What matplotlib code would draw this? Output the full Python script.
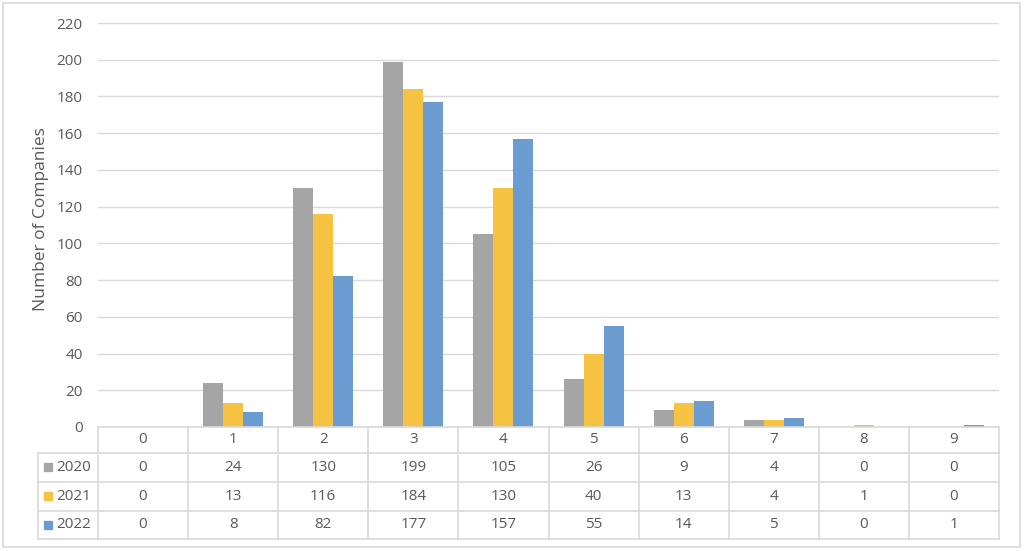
import matplotlib
matplotlib.use("Agg")
import matplotlib.pyplot as plt
from matplotlib.patches import Rectangle
from matplotlib.lines import Line2D

categories = ["0", "1", "2", "3", "4", "5", "6", "7", "8", "9"]
series_names = ["2020", "2021", "2022"]
v2020 = [0, 24, 130, 199, 105, 26, 9, 4, 0, 0]
v2021 = [0, 13, 116, 184, 130, 40, 13, 4, 1, 0]
v2022 = [0, 8, 82, 177, 157, 55, 14, 5, 0, 1]
yticks = [0, 20, 40, 60, 80, 100, 120, 140, 160, 180, 200, 220]
ylabel = "Number of Companies"

series = [v2020, v2021, v2022]
colors = ["#A5A5A5", "#F6C242", "#6A9BD1"]
txt = "#595959"
grid = "#D9D9D9"

plt.rcParams['font.family'] = ['Open Sans', 'DejaVu Sans']
FS = 11

W, H = 1024, 551
fig = plt.figure(figsize=(W / 100, H / 100), dpi=100)

def fx(px):
    return px / W

def fy(py):
    return 1 - py / H

# outer frame
fig.patches.append(Rectangle((fx(3), fy(547)), fx(1020) - fx(3), fy(3) - fy(547),
                             transform=fig.transFigure, fill=False, edgecolor=grid, lw=1.2))

L, R, T, B = 98, 999, 23, 427
ax = fig.add_axes([fx(L), fy(B), fx(R) - fx(L), fy(T) - fy(B)])
n = len(categories)
bw = 0.222
for i, (vals, c) in enumerate(zip(series, colors)):
    xs = [k + (i - 1) * bw for k in range(n)]
    ax.bar(xs, vals, width=bw, color=c, zorder=3)
ax.set_xlim(-0.5, n - 0.5)
ax.set_ylim(0, 220)
ax.set_yticks(yticks)
ax.set_yticklabels([str(t) for t in yticks], fontsize=FS, color=txt)
ax.tick_params(axis='y', length=0, pad=11)
ax.set_xticks([])
ax.grid(axis='y', color=grid, lw=1, zorder=0)
for s in ax.spines.values():
    s.set_visible(False)
ax.set_ylabel(ylabel, fontsize=12.5, color=txt)
ax.yaxis.set_label_coords(fx(49 - L) / (fx(R) - fx(L)), (B - 219) / (B - T))

# data table
TL = 38
rows_y = [427, 453, 482, 511, 539]
tx = fig.add_axes([fx(TL), fy(rows_y[-1]), fx(R) - fx(TL), fy(rows_y[0]) - fy(rows_y[-1])])
left_units = (L - TL) / ((R - L) / n)
tx.set_xlim(-0.5 - left_units, n - 0.5)
tx.set_ylim(rows_y[-1], rows_y[0])
tx.axis('off')
lk = dict(color=grid, lw=1.2, clip_on=False)
tx.add_line(Line2D([-0.5, n - 0.5], [rows_y[0], rows_y[0]], **lk))
for yy in rows_y[1:]:
    tx.add_line(Line2D([-0.5 - left_units, n - 0.5], [yy, yy], **lk))
tx.add_line(Line2D([-0.5 - left_units] * 2, [rows_y[1], rows_y[-1]], **lk))
for k in range(n + 1):
    tx.add_line(Line2D([k - 0.5] * 2, [rows_y[0], rows_y[-1]], **lk))
for k, c in enumerate(categories):
    tx.text(k, (rows_y[0] + rows_y[1]) / 2, c, ha='center', va='center', fontsize=FS, color=txt)
for r, (name, vals, col) in enumerate(zip(series_names, series, colors)):
    yc = (rows_y[r + 1] + rows_y[r + 2]) / 2
    xl = -0.5 - left_units
    tx.add_patch(Rectangle((xl + 0.065, yc + 4), 0.09, -8, color=col, clip_on=False))
    tx.text(xl + 0.2, yc, name, ha='left', va='center', fontsize=FS, color=txt)
    for k, v in enumerate(vals):
        tx.text(k, yc, str(v), ha='center', va='center', fontsize=FS, color=txt)

fig.savefig("out.png", dpi=100)
